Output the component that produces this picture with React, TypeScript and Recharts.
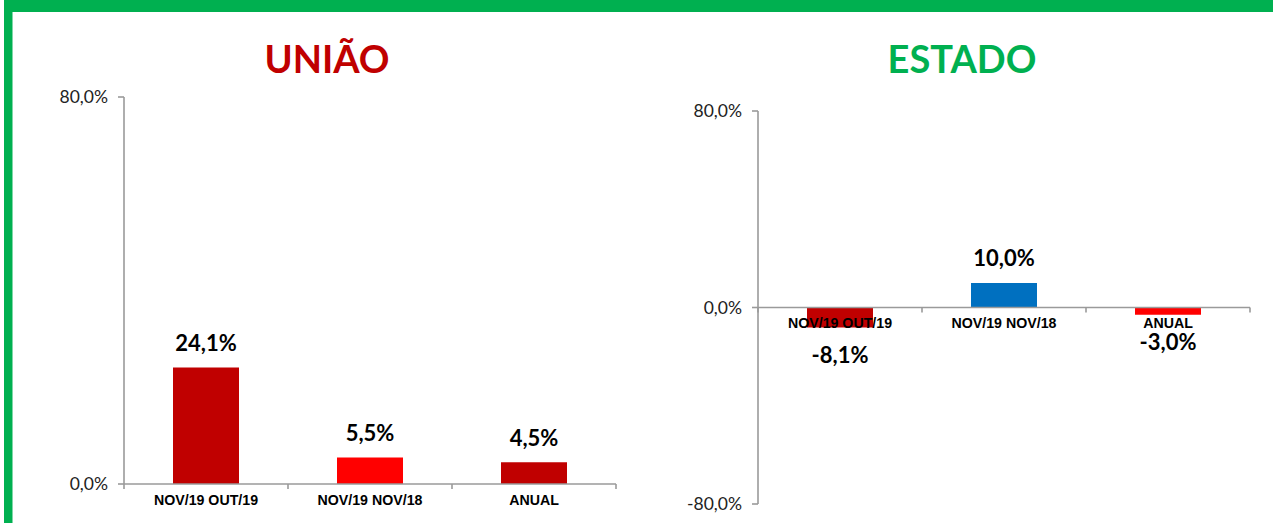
import React from 'react';
import { BarChart, Bar, XAxis, YAxis, Cell, LabelList, ReferenceLine } from 'recharts';

const categories = ['NOV/19 OUT/19', 'NOV/19 NOV/18', 'ANUAL'];
const uniaoValues = [24.1, 5.5, 4.5];
const estadoValues = [-8.1, 10.0, -3.0];
const uniaoColors = ['#C00000', '#FF0000', '#C00000'];
const estadoColors = ['#C00000', '#0070C0', '#FF0000'];
const uniaoTicks = [0, 80];
const estadoTicks = [-80, 0, 80];
const uniaoTitle = 'UNIÃO';
const estadoTitle = 'ESTADO';

const uniaoData = categories.map((name, i) => ({ name, value: uniaoValues[i] }));
const estadoData = categories.map((name, i) => ({ name, value: estadoValues[i] }));

const AXIS = '#9A9A9A';
const fmt = (v: number) => v.toFixed(1).replace('.', ',') + '%';

const ValueLabel = (props: any) => {
  const vb = props.viewBox && props.viewBox.width !== undefined ? props.viewBox : props;
  const x = Number(vb.x);
  const y = Number(vb.y);
  const w = Number(vb.width);
  const h = Number(vb.height);
  const value = Number(props.value);
  const top = Math.min(y, y + h);
  const bottom = Math.max(y, y + h);
  const ty = value >= 0 ? top - 25 : bottom + 27;
  return (
    <text
      x={x + w / 2}
      y={ty}
      textAnchor="middle"
      dominantBaseline="central"
      fontFamily="Lato"
      fontWeight={700}
      fontSize={22}
      fill="#000"
    >
      {fmt(value)}
    </text>
  );
};

const ZeroAxis = (props: any) => {
  const { x1, x2, y1 } = props;
  const n = categories.length;
  const band = (x2 - x1) / n;
  const bounds = Array.from({ length: n + 1 }, (_, i) => x1 + band * i);
  return (
    <g>
      <line x1={x1} x2={x2} y1={y1} y2={y1} stroke={AXIS} strokeWidth={1.6} />
      {bounds.map((bx, i) => (
        <line key={'t' + i} x1={bx} x2={bx} y1={y1} y2={y1 + 5} stroke={AXIS} strokeWidth={1.6} />
      ))}
      {categories.map((c, i) => (
        <text
          key={'c' + i}
          x={x1 + band * (i + 0.5)}
          y={y1 + 15.5}
          textAnchor="middle"
          dominantBaseline="central"
          fontFamily="Liberation Sans"
          fontWeight={700}
          fontSize={14.2}
          fill="#000"
        >
          {c}
        </text>
      ))}
    </g>
  );
};

const tickStyle = { fontFamily: 'Lato', fontSize: 17.5, fill: '#222' };

function Panel(props: {
  data: { name: string; value: number }[];
  colors: string[];
  ticks: number[];
  width: number;
  height: number;
  margin: { top: number; right: number; bottom: number; left: number };
  yWidth: number;
}) {
  const { data, colors, ticks, width, height, margin, yWidth } = props;
  return (
    <BarChart width={width} height={height} data={data} margin={margin}>
      <XAxis dataKey="name" hide />
      <YAxis
        type="number"
        domain={[ticks[0], ticks[ticks.length - 1]]}
        ticks={ticks}
        tickFormatter={fmt}
        width={yWidth}
        axisLine={{ stroke: AXIS, strokeWidth: 1.6 }}
        tickLine={{ stroke: AXIS, strokeWidth: 1.6 }}
        tickSize={6}
        tickMargin={10}
        tick={tickStyle}
        interval={0}
      />
      <Bar dataKey="value" barSize={66} isAnimationActive={false}>
        {data.map((_, i) => (
          <Cell key={i} fill={colors[i]} />
        ))}
        <LabelList dataKey="value" content={ValueLabel} />
      </Bar>
      <ReferenceLine y={0} shape={ZeroAxis} ifOverflow="visible" />
    </BarChart>
  );
}

export default function App() {
  return (
    <div
      style={{
        position: 'absolute',
        left: 0,
        top: 0,
        width: 1273,
        height: 523,
        background: '#fff',
        overflow: 'hidden',
      }}
    >
      <svg width={1273} height={523} style={{ position: 'absolute', left: 0, top: 0 }}>
        <rect x={4} y={0} width={1269} height={12} fill="#00B050" />
        <rect x={4} y={0} width={8.5} height={523} fill="#00B050" />
        <text x={327} y={73} textAnchor="middle" fontFamily="Lato" fontWeight={700} fontSize={38} fill="#C00000">
          {uniaoTitle}
        </text>
        <text x={962} y={73} textAnchor="middle" fontFamily="Lato" fontWeight={700} fontSize={38} fill="#00B050">
          {estadoTitle}
        </text>
      </svg>
      <div style={{ position: 'absolute', left: 0, top: 0 }}>
        <Panel
          data={uniaoData}
          colors={uniaoColors}
          ticks={uniaoTicks}
          width={640}
          height={523}
          margin={{ top: 97, right: 24, bottom: 39, left: 0 }}
          yWidth={124}
        />
      </div>
      <div style={{ position: 'absolute', left: 640, top: 0 }}>
        <Panel
          data={estadoData}
          colors={estadoColors}
          ticks={estadoTicks}
          width={633}
          height={523}
          margin={{ top: 111, right: 23, bottom: 19, left: 0 }}
          yWidth={118}
        />
      </div>
    </div>
  );
}
